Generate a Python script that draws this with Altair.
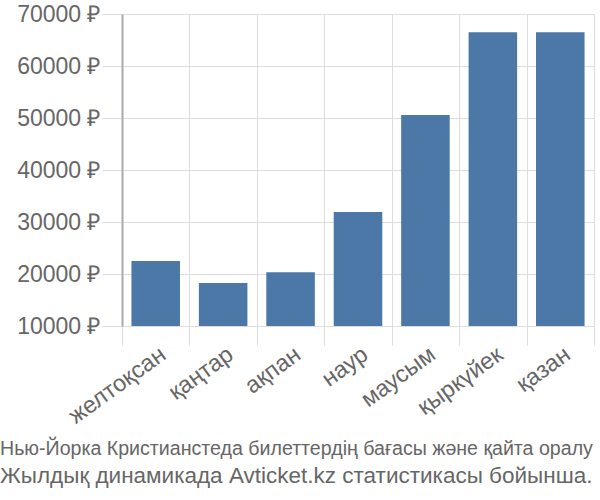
import altair as alt
import pandas as pd

months = ["желтоқсан", "қаңтар", "ақпан", "наур", "маусым", "қыркүйек", "қазан"]
prices = [22500, 18250, 20350, 31900, 50600, 66500, 66500]
y_ticks = [10000, 20000, 30000, 40000, 50000, 60000, 70000]
title_line1 = "Нью-Йорка Кристианстеда билеттердің бағасы және қайта оралу"
title_line2 = "Жылдық динамикада Avticket.kz статистикасы бойынша."

df = pd.DataFrame({"month": months, "price": prices})

FONT = "Liberation Sans"

chart = alt.Chart(df).mark_bar(
    color="#4c78a8", width=alt.RelativeBandSize(0.72)
).encode(
    x=alt.X(
        "month:N",
        sort=months,
        title=None,
        scale=alt.Scale(paddingInner=0, paddingOuter=0),
        axis=alt.Axis(
            tickBand="extent",
            labelAngle=-36,
            labelAlign="right",
            labelBaseline="top",
            labelFontSize=23.5,
            labelFont=FONT,
            labelColor="#666666",
            tickSize=19,
            tickColor="#dddddd",
            gridColor="#dddddd",
            grid=True,
            domain=False,
            labelPadding=-3,
        ),
    ),
    y=alt.Y(
        "price:Q",
        title=None,
        scale=alt.Scale(domain=[10000, 70000], zero=False, nice=False),
        axis=alt.Axis(
            values=y_ticks,
            labelExpr="datum.value + ' ₽'",
            labelFontSize=23,
            labelFont=FONT,
            labelColor="#666666",
            tickSize=20,
            tickColor="#dddddd",
            gridColor="#dddddd",
            domainColor="#aaaaaa",
            domainWidth=2,
            labelPadding=2,
        ),
    ),
    y2=alt.datum(10000),
).properties(
    width=472,
    height=312,
    autosize=alt.AutoSizeParams(type="none"),
    padding={"left": 122, "top": 14, "right": 6, "bottom": 174},
    title=alt.TitleParams(
        text=title_line1,
        subtitle=title_line2,
        orient="bottom",
        anchor="start",
        frame="group",
        dx=-122,
        offset=12,
        fontSize=19.6,
        font=FONT,
        fontWeight="normal",
        color="#666666",
        subtitleFontSize=22.5,
        subtitleFont=FONT,
        subtitleColor="#666666",
        subtitlePadding=6,
    ),
).configure_view(stroke=None)

chart.save("out.html", embed_options={"renderer": "svg", "actions": False})
